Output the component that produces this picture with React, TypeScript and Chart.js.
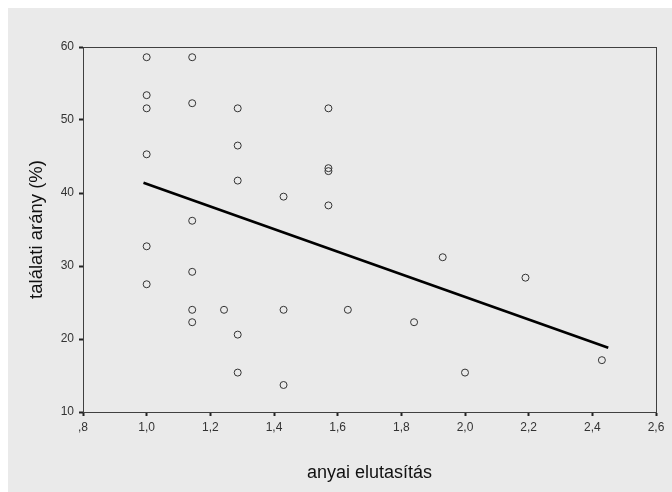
import React, { useEffect, useRef } from "react";
import { Chart, registerables } from "chart.js";

Chart.register(...registerables);

// anyai elutasítás (x) and találati arány % (y) per respondent
const motherRejection: number[] = [
  1.0, 1.0, 1.0, 1.0, 1.0, 1.0,
  1.143, 1.143, 1.143, 1.143, 1.143, 1.143,
  1.243,
  1.286, 1.286, 1.286, 1.286, 1.286,
  1.43, 1.43, 1.43,
  1.571, 1.571, 1.571, 1.571,
  1.632, 1.84, 1.93, 2.0, 2.19, 2.43,
];
const hitRate: number[] = [
  58.6, 53.4, 51.6, 45.3, 32.7, 27.5,
  58.6, 52.3, 36.2, 29.2, 24.0, 22.3,
  24.0,
  51.6, 46.5, 41.7, 20.6, 15.4,
  39.5, 24.0, 13.7,
  51.6, 43.4, 43.0, 38.3,
  24.0, 22.3, 31.2, 15.4, 28.4, 17.1,
];
// linear fit line endpoints
const fitX: number[] = [0.99, 2.45];
const fitY: number[] = [41.4, 18.8];

const xTitle = "anyai elutasítás";
const yTitle = "találati arány (%)";

const tickFont = "'Liberation Sans', Arial, sans-serif";
const titleFont = "'Liberation Sans', Arial, sans-serif";

const frame = {
  id: "frame",
  afterDatasetsDraw(chart: any) {
    const { ctx, chartArea } = chart;
    ctx.save();
    ctx.strokeStyle = "#404040";
    ctx.lineWidth = 1;
    ctx.strokeRect(
      Math.round(chartArea.left) + 0.5,
      Math.round(chartArea.top) + 0.5,
      Math.round(chartArea.right - chartArea.left),
      Math.round(chartArea.bottom - chartArea.top)
    );
    ctx.restore();
  },
};

export default function App() {
  const ref = useRef<HTMLCanvasElement | null>(null);
  useEffect(() => {
    if (!ref.current) return;
    const chart = new Chart(ref.current, {
      type: "scatter",
      data: {
        datasets: [
          {
            type: "line",
            data: fitX.map((x, i) => ({ x, y: fitY[i] })),
            borderColor: "#000",
            borderWidth: 2.6,
            pointRadius: 0,
            fill: false,
            order: 0,
          } as any,
          {
            data: motherRejection.map((x, i) => ({ x, y: hitRate[i] })),
            pointStyle: "circle",
            pointRadius: 3.5,
            borderWidth: 1,
            borderColor: "#333",
            backgroundColor: "rgba(0,0,0,0)",
            order: 1,
          },
        ],
      },
      options: {
        animation: false,
        responsive: true,
        maintainAspectRatio: false,
        layout: { padding: { left: 0, top: 39, right: 16, bottom: 0 } },
        plugins: { legend: { display: false }, tooltip: { enabled: false } },
        scales: {
          x: {
            type: "linear",
            min: 0.8,
            max: 2.6,
            afterFit: (a: any) => { a.height = 80; },
            ticks: {
              stepSize: 0.2,
              padding: 4,
              color: "#333",
              font: { family: tickFont, size: 12 },
              callback: (v: any) => {
                const s = Number(v).toFixed(1).replace(".", ",");
                return s.startsWith("0") ? s.slice(1) : s;
              },
            },
            grid: {
              drawOnChartArea: false,
              drawTicks: true,
              tickLength: 4,
              tickWidth: 2,
              tickColor: "#222",
            },
            border: { color: "#404040", width: 1 },
            title: {
              display: true,
              text: xTitle,
              color: "#111",
              font: { family: titleFont, size: 18 },
              padding: { top: 0, bottom: 8 },
            },
          },
          y: {
            type: "linear",
            min: 10,
            max: 60,
            afterFit: (a: any) => { a.width = 75; },
            ticks: {
              stepSize: 10,
              padding: 5,
              color: "#333",
              font: { family: tickFont, size: 12 },
            },
            grid: {
              drawOnChartArea: false,
              drawTicks: true,
              tickLength: 4,
              tickWidth: 2,
              tickColor: "#222",
            },
            border: { color: "#404040", width: 1 },
            title: {
              display: true,
              text: yTitle,
              color: "#111",
              font: { family: titleFont, size: 18.5 },
              padding: { top: 18, bottom: 0 },
            },
          },
        },
      },
      plugins: [frame],
    });
    return () => chart.destroy();
  }, []);
  return (
    <div
      style={{
        position: "absolute",
        left: 8,
        top: 8,
        width: 664,
        height: 484,
        background: "#eaeaea",
      }}
    >
      <canvas ref={ref} />
    </div>
  );
}
